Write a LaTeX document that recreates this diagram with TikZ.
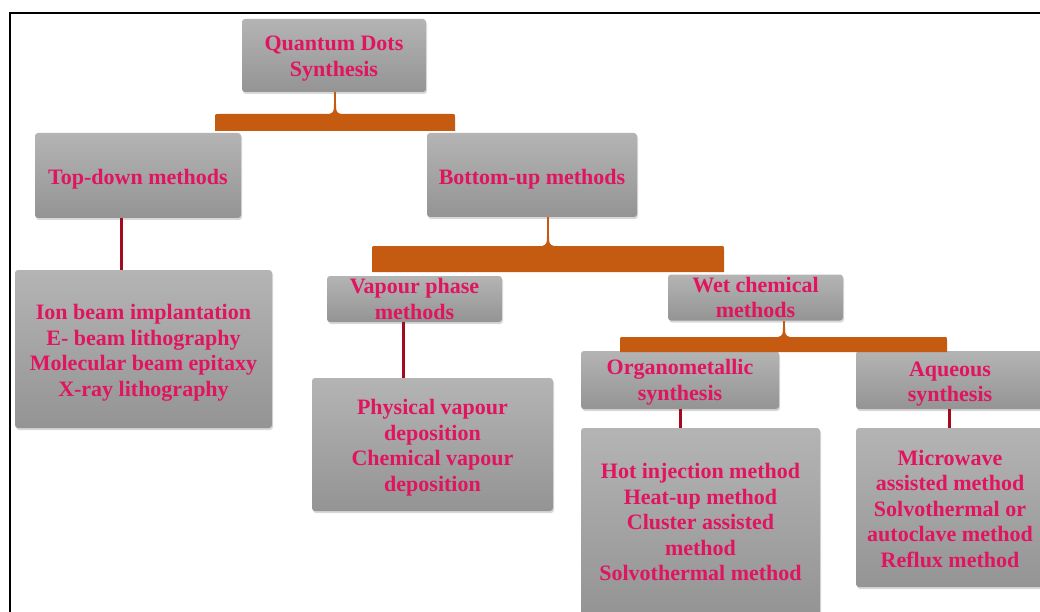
\documentclass[tikz,border=0pt]{standalone}
\usepackage{fontspec}
\setmainfont{Liberation Serif}
\usetikzlibrary{shadows,calc}
\definecolor{qpink}{RGB}{225,20,95}
\definecolor{qorange}{RGB}{197,90,17}
\definecolor{qred}{RGB}{165,10,30}
\definecolor{qgtop}{RGB}{180,180,180}
\definecolor{qgbot}{RGB}{148,148,148}
\tikzset{
 qbox/.style={rectangle, rounded corners=3pt, top color=qgtop, bottom color=qgbot, draw=none,
   drop shadow={shadow xshift=1pt, shadow yshift=-2pt, opacity=0.3}, inner sep=0pt},
 qtext/.style={text=qpink, font=\fontsize{22}{25.5}\selectfont\bfseries, align=center, inner sep=0pt},
 qlink/.style={draw=qred, line width=3pt},
 qstem/.style={draw=qorange, line width=2pt},
 qbrace/.style={fill=qorange},
}
% name, x, y, width, height, text shift down, text
\newcommand{\qnode}[7]{%
 \node[qbox, minimum width=#4pt, minimum height=#5pt] (#1) at (#2,#3) {};
 \node[qtext] (#1t) at ([yshift=-#6pt]#1.center) {#7};}
\newcommand{\qbar}[4]{%
 \fill[qbrace] ($(#1)+(-#2,#4)$) -- ($(#1)+(-#2,4)$) .. controls ($(#1)+(-#2,0)$) .. ($(#1)+(-#2+4,0)$)
  -- ($(#1)+(-6,0)$) .. controls ($(#1)+(-1,-1)$) and ($(#1)+(-1,-4)$) .. ($(#1)+(-1,-10)$)
  -- ($(#1)+(1,-10)$) .. controls ($(#1)+(1,-4)$) and ($(#1)+(1,-1)$) .. ($(#1)+(6,0)$)
  -- ($(#1)+(#3-4,0)$) .. controls ($(#1)+(#3,0)$) .. ($(#1)+(#3,4)$) -- ($(#1)+(#3,#4)$) -- cycle;}
\begin{document}
\begin{tikzpicture}[x=1pt,y=-1pt]
\useasboundingbox (0,0) rectangle (1040,612);
\fill[white] (0,0) rectangle (1040,612);
\draw[line width=2.5pt, black] (10,630) -- (10,13) -- (1060,13);

% nodes
\qnode{root}{334}{55.5}{184}{73}{3}{Quantum Dots\\Synthesis}
\qnode{td}{138}{175.5}{206}{85}{4}{Top-down methods}
\qnode{bu}{532}{175}{210}{84}{4}{Bottom-up methods}
\qnode{ion}{143.5}{349}{257}{158}{4}{Ion beam implantation\\E- beam lithography\\Molecular beam epitaxy\\X-ray lithography}
\qnode{vap}{414.5}{299}{175}{46}{0}{Vapour phase\\methods}
\qnode{wet}{755.5}{297.5}{175}{46}{0}{Wet chemical\\methods}
\qnode{phys}{432.5}{444.5}{241}{133}{3}{Physical vapour\\deposition\\Chemical vapour\\deposition}
\qnode{org}{680}{380}{198}{58}{2}{Organometallic\\synthesis}
\qnode{aq}{950}{380}{188}{58}{4}{Aqueous\\synthesis}
\qnode{hot}{700.5}{521.5}{239}{187}{0.5}{Hot injection method\\Heat-up method\\Cluster assisted\\method\\Solvothermal method}
\qnode{mic}{950}{507.5}{188}{159}{1}{Microwave\\assisted method\\Solvothermal or\\autoclave method\\Reflux method}

% brackets
\coordinate (b1) at (335,114);
\coordinate (b2) at (548,246);
\coordinate (b3) at (784,337);
\draw[qstem] (root.south -| b1) -- (b1);
\draw[qstem] (bu.south -| b2) -- (b2);
\draw[qstem] (wet.south -| b3) -- (b3);
\qbar{b1}{120}{120}{17}
\qbar{b2}{176}{176}{26}
\qbar{b3}{164}{163}{15}

% links
\coordinate (c1) at (121,0);
\coordinate (c2) at (403,0);
\coordinate (c3) at (680,0);
\coordinate (c4) at (949,0);
\draw[qlink] (td.south -| c1) -- (ion.north -| c1);
\draw[qlink] (vap.south -| c2) -- (phys.north -| c2);
\draw[qlink] (org.south -| c3) -- (hot.north -| c3);
\draw[qlink] (aq.south -| c4) -- (mic.north -| c4);
\end{tikzpicture}
\end{document}
